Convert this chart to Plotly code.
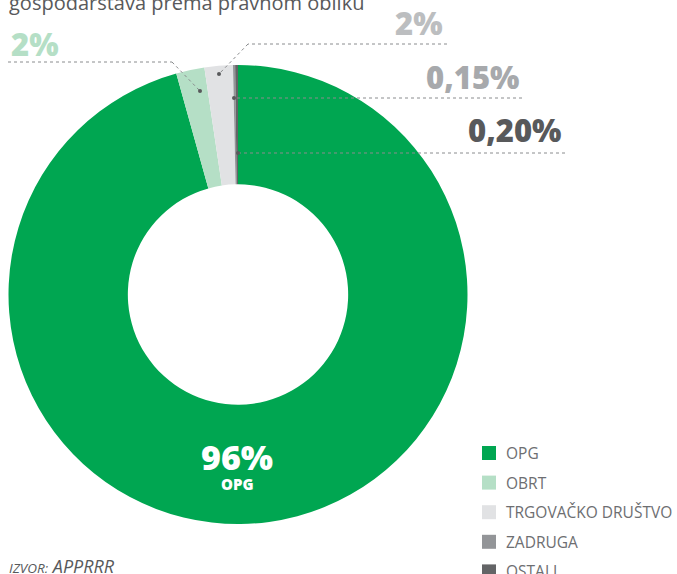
import plotly.graph_objects as go

# ---- data ----
categories = ["OPG", "OBRT", "TRGOVAČKO DRUŠTVO", "ZADRUGA", "OSTALI"]
shares = [96, 2, 2, 0.15, 0.20]
share_labels = ["96%", "2%", "2%", "0,15%", "0,20%"]
colors = ["#00A651", "#B5DFC6", "#E1E2E4", "#939598", "#636466"]
label_colors = ["#FFFFFF", "#B5DFC6", "#BCBEC0", "#A7A9AC", "#58595B"]
title_text = "gospodarstava prema pravnom obliku"
source_prefix = "IZVOR:"
source_name = "APPRRR"

W, H = 677, 574


def px(x):
    return x / W


def py(y):
    return 1 - y / H


fig = go.Figure()
fig.add_trace(go.Pie(
    labels=categories,
    values=shares,
    sort=False,
    direction="clockwise",
    rotation=0,
    hole=0.48,
    marker=dict(colors=colors, line=dict(width=0)),
    textinfo="none",
    hoverinfo="label+percent",
    showlegend=False,
    domain=dict(x=[px(8), px(468)], y=[py(524), py(65)]),
))

shapes = []
annotations = []

LABEL_FONT = "Open Sans"
DOT = "#58595B"
LINE = "#8A8C8E"

# leader lines: (slice index, polyline points ending at the dot)
leaders = [
    (1, [(8, 62), (172, 62), (200, 91)]),
    (2, [(447, 44), (248, 44), (219, 74)]),
    (3, [(522, 98), (234, 98)]),
    (4, [(565, 153), (238, 153)]),
]
for idx, pts in leaders:
    for (x0, y0), (x1, y1) in zip(pts[:-1], pts[1:]):
        shapes.append(dict(type="line", xref="paper", yref="paper",
                           x0=px(x0), y0=py(y0), x1=px(x1), y1=py(y1),
                           line=dict(color=LINE, width=1, dash="dot")))
    dx, dy = pts[-1]
    r = 2
    shapes.append(dict(type="circle", xref="paper", yref="paper",
                       x0=px(dx - r), y0=py(dy - r), x1=px(dx + r), y1=py(dy + r),
                       fillcolor=DOT, line=dict(width=0)))

# percentage labels
label_pos = {1: (9, 44, "left"), 2: (445, 23, "right"),
             3: (521, 77, "right"), 4: (563, 130, "right")}
for idx, (x, y, anchor) in label_pos.items():
    annotations.append(dict(
        text=share_labels[idx], xref="paper", yref="paper",
        x=px(x), y=py(y),
        xanchor=anchor, yanchor="middle", showarrow=False,
        font=dict(family=LABEL_FONT, size=31, color=label_colors[idx], weight=800),
    ))

# centre label in OPG slice
annotations.append(dict(text=share_labels[0], xref="paper", yref="paper",
                        x=px(237), y=py(457), xanchor="center", yanchor="middle",
                        showarrow=False,
                        font=dict(family=LABEL_FONT, size=34, color="#FFFFFF", weight=800)))
annotations.append(dict(text=categories[0], xref="paper", yref="paper",
                        x=px(237), y=py(484), xanchor="center", yanchor="middle",
                        showarrow=False,
                        font=dict(family=LABEL_FONT, size=15, color="#FFFFFF", weight=800)))

# manual legend
for i, (cat, col) in enumerate(zip(categories, colors)):
    cy = 453 + 29.6 * i
    shapes.append(dict(type="rect", xref="paper", yref="paper",
                       x0=px(482), x1=px(496), y0=py(cy - 7), y1=py(cy + 7),
                       fillcolor=col, line=dict(width=0)))
    annotations.append(dict(text=cat, xref="paper", yref="paper",
                            x=px(504), y=py(cy), xanchor="left", yanchor="middle",
                            showarrow=False,
                            font=dict(family=LABEL_FONT, size=15.5, color="#6D6E71")))

# title (cut off at the top) and source
annotations.append(dict(text=title_text, xref="paper", yref="paper",
                        x=px(7), y=py(18), xanchor="left", yanchor="bottom",
                        showarrow=False,
                        font=dict(family=LABEL_FONT, size=20, color="#58595B")))
annotations.append(dict(text=f"<i><span style='font-size:13.5px'>{source_prefix}</span> {source_name}</i>",
                        xref="paper", yref="paper",
                        x=px(7), y=py(566), xanchor="left", yanchor="middle",
                        showarrow=False,
                        font=dict(family=LABEL_FONT, size=18, color="#58595B")))

fig.update_layout(
    width=W, height=H,
    margin=dict(l=0, r=0, t=0, b=0),
    paper_bgcolor="white", plot_bgcolor="white",
    shapes=shapes, annotations=annotations,
)

fig.write_html("out.html",
               config={"displayModeBar": False},
               post_script="document.body.style.margin='0';document.body.style.overflow='hidden';")
